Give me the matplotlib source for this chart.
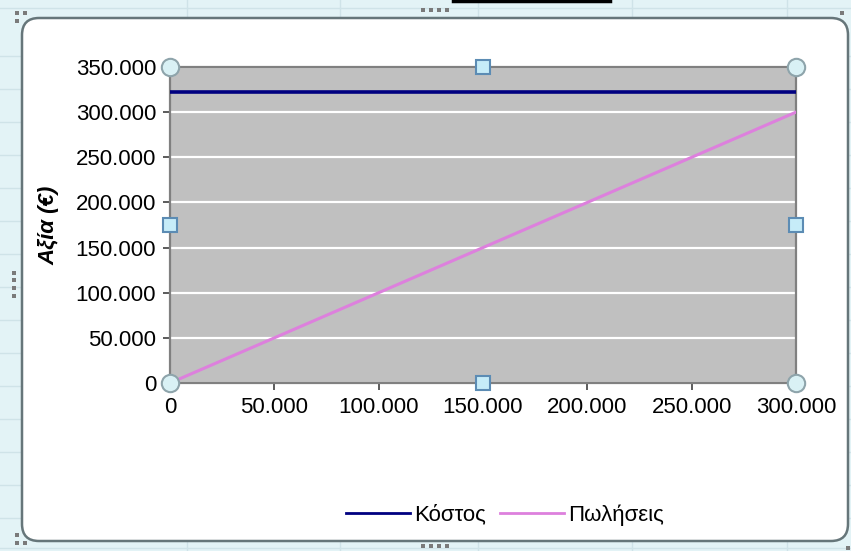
import matplotlib
matplotlib.use('Agg')
import matplotlib.pyplot as plt
from matplotlib.patches import FancyBboxPatch, Rectangle
from matplotlib.lines import Line2D
from matplotlib.ticker import FuncFormatter, MultipleLocator

plt.rcParams['font.family'] = ['Liberation Sans', 'DejaVu Sans']

# Break-even data: fixed cost vs. sales revenue
quantity = [0, 300000]
cost = [322000, 322000]
sales = [0, 300000]
series_names = ['Κόστος', 'Πωλήσεις']
y_label = 'Αξία (€)'

W, H = 851, 551
fig = plt.figure(figsize=(W / 100, H / 100), dpi=100)
fig.patch.set_facecolor('#e3f3f6')


def fx(px):
    return px / W


def fy(py):
    return 1 - py / H


# spreadsheet grid behind the chart
for gx in [187, 340, 478, 632, 787]:
    fig.add_artist(Line2D([fx(gx)] * 2, [0, 1], color='#cfe3e8', lw=1, zorder=-3))
for gy in [8, 56, 89, 122, 155, 188, 221, 254, 287, 320, 353, 386, 419, 452, 485, 518, 548]:
    fig.add_artist(Line2D([0, 1], [fy(gy)] * 2, color='#cfe3e8', lw=1, zorder=-3))

# chart area
fig.add_artist(FancyBboxPatch((fx(22), fy(541)), fx(848 - 22), (541 - 18) / H,
                              boxstyle='round,pad=0,rounding_size=0.02',
                              facecolor='white', edgecolor='#66767a', lw=1.8,
                              mutation_aspect=W / H, zorder=-2))
fig.add_artist(Line2D([fx(453), fx(610)], [fy(1), fy(1)], color='black', lw=2.5, zorder=-1))

# resize grips on the chart frame
grips = [(423, 10), (431, 10), (439, 10), (447, 10),
         (423, 546), (431, 546), (439, 546), (447, 546),
         (14, 273), (14, 280), (14, 288), (14, 296),
         (17, 13), (25, 13), (17, 21), (17, 535), (25, 543), (17, 543),
         (842, 13), (848, 548)]
for px, py in grips:
    fig.add_artist(Rectangle((fx(px - 2), fy(py + 2)), 4 / W, 4 / H,
                             facecolor='#7a7a7a', edgecolor='none', zorder=-1))

ax = fig.add_axes([fx(170), fy(383), fx(796 - 170), (383 - 67) / H])
ax.set_facecolor('#c0c0c0')

ax.plot(quantity, cost, color='#000080', lw=2.6, label=series_names[0], zorder=3)
ax.plot(quantity, sales, color='#dd80dd', lw=2.2, label=series_names[1], zorder=3)

ax.set_xlim(0, 300000)
ax.set_ylim(0, 350000)
ax.xaxis.set_major_locator(MultipleLocator(50000))
ax.yaxis.set_major_locator(MultipleLocator(50000))
fmt = FuncFormatter(lambda v, p: f'{int(v):,}'.replace(',', '.'))
ax.xaxis.set_major_formatter(fmt)
ax.yaxis.set_major_formatter(fmt)
ax.grid(axis='y', color='white', lw=1.6, zorder=1)
ax.set_axisbelow(True)
ax.tick_params(labelsize=16, length=5, width=1.2, color='#404040', pad=5)
for s in ax.spines.values():
    s.set_color('#808080')
    s.set_linewidth(1.6)

ax.set_ylabel(y_label, fontsize=16, fontweight='bold', style='italic')
ax.yaxis.set_label_coords(-0.177, 0.5)

# selection handles on the plot area
circ = dict(marker='o', ms=12.5, mfc='#d9f1f5', mec='#8ea4ab', mew=1.5, ls='none',
            transform=ax.transAxes, clip_on=False, zorder=10)
sq = dict(marker='s', ms=10.5, mfc='#c6ecf8', mec='#5c8cb4', mew=1.5, ls='none',
          transform=ax.transAxes, clip_on=False, zorder=10)
ax.plot([0, 1, 0, 1], [0, 0, 1, 1], **circ)
ax.plot([0.5, 0.5, 0, 1], [0, 1, 0.5, 0.5], **sq)

leg = fig.legend(loc='center', bbox_to_anchor=(fx(505), fy(515)), ncol=2, frameon=False,
                 fontsize=16, handlelength=2.9, handletextpad=0.2, columnspacing=0.6)
for line in leg.get_lines():
    line.set_linewidth(2)

fig.savefig('out.png', dpi=100)
